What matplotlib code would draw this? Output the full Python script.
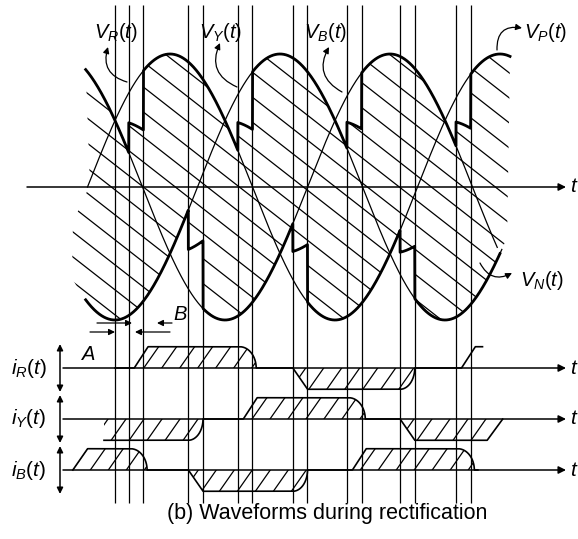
import numpy as np
import matplotlib
matplotlib.use('Agg')
import matplotlib.pyplot as plt
from matplotlib.patches import Polygon
from matplotlib.collections import LineCollection

plt.rcParams['font.family'] = ['Liberation Sans', 'DejaVu Sans']
plt.rcParams['mathtext.fontset'] = 'custom'
plt.rcParams['mathtext.rm'] = 'Liberation Sans'
plt.rcParams['mathtext.it'] = 'Liberation Sans:italic'

# phase voltages (p.u.), angles in electrical degrees
phase_shift = {'R': 0, 'Y': 120, 'B': 240}
thin_span = {'R': (0, 461), 'Y': (-2, 452), 'B': (-2, 447)}

# thyristor firing angles and commutation overlap
natural_point = [30]
top_firing = [45, 164, 283, 402]
top_phases = ['B', 'R', 'Y', 'B', 'R']
bottom_firing = [110, 224, 341]
bottom_phases = ['Y', 'B', 'R', 'Y']
overlap = 16
vp_span = (-2, 461)
vn_span = (-2, 450)

# line currents: (sign, firing where it starts, firing where it ends)
current_pulses = {
    'R': [(1, 45, 164), (-1, 224, 341), (1, 402, None)],
    'Y': [(-1, None, 110), (1, 164, 283), (-1, 341, None)],
    'B': [(1, None, 45), (-1, 110, 224), (1, 283, 402)],
}
current_span = {'R': (30, 431), 'Y': (18, 453), 'B': (-16, 426)}
current_cut = {'R': (0, 0), 'Y': (0, 17), 'B': (16, 0)}
hatch_stop = {'R': 400, 'Y': 453, 'B': 426}
current_labels = {'R': r'$\mathit{i_R(t)}$', 'Y': r'$\mathit{i_Y(t)}$', 'B': r'$\mathit{i_B(t)}$'}

# ---- page geometry (pixels of the 578x539 drawing) ----
K = 330 / 360.0      # px per degree
X0 = 87.5            # px of 0 deg
V = 133.0            # px per p.u.
Y0 = 187.0           # px of the voltage axis
base = {'R': (Y0 - 368) / V, 'Y': (Y0 - 419) / V, 'B': (Y0 - 470) / V}
H = 0.16


def tx(px):
    return (px - X0) / K


def ty(py):
    return (Y0 - py) / V


def phase(p, th):
    return np.sin(np.radians(th - phase_shift[p]))


def envelope(th, firing, order):
    out = phase(order[0], th)
    for k, f in enumerate(firing):
        a, b = order[k], order[k + 1]
        out = np.where(th >= f, (phase(a, th) + phase(b, th)) / 2, out)
        out = np.where(th >= f + overlap, phase(b, th), out)
    return out


def onset(th, f, sign):
    if sign > 0:
        return np.clip((th - f - 6) / 15.0, 0, 1)
    return np.clip((th - f) / 16.0, 0, 1)


def ending(th, f, sign):
    a, b = (f + 2, f + 20) if sign > 0 else (f, f + 16)
    s = np.clip((th - a) / (b - a), 0, 1)
    return np.sqrt(1 - s ** 2)


def current(p, th):
    i = np.zeros_like(th)
    for sign, on, off in current_pulses[p]:
        up = np.ones_like(th) if on is None else onset(th, on, sign)
        down = np.ones_like(th) if off is None else ending(th, off, sign)
        i += sign * np.minimum(up, down)
    left, right = current_cut[p]
    a, b = current_span[p]
    if left:
        i *= np.clip((th - a) / left, 0, 1)
    if right:
        i *= np.clip((b - th) / right, 0, 1)
    return i


def hatch(ax, xs, ys, angle, gap, lw=0.9):
    poly = Polygon(np.column_stack([xs, ys]), closed=True, fc='none', ec='none')
    ax.add_patch(poly)
    t = np.tan(np.radians(angle))
    segs = []
    for c in np.arange(-1200, 1600, gap):
        xp = np.array([0.0, 578.0])
        yp = c + t * xp
        segs.append(np.column_stack([tx(xp), ty(yp)]))
    lc = LineCollection(segs, colors='k', linewidths=lw)
    ax.add_collection(lc)
    lc.set_clip_path(poly)


fig = plt.figure(figsize=(5.78, 5.39), dpi=100)
ax = fig.add_axes([0, 0, 1, 1])
ax.set_xlim(tx(0), tx(578))
ax.set_ylim(ty(539), ty(0))
ax.axis('off')

arrow = dict(arrowstyle='-|>', color='k', lw=1.1, mutation_scale=11, shrinkA=0, shrinkB=0)

# vertical marker lines
marks = natural_point + sorted(top_firing + bottom_firing + [f + overlap for f in top_firing + bottom_firing])
ax.vlines(marks, ty(503), ty(5), color='k', lw=0.9)

# voltage axis
ax.annotate('', xy=(tx(566), 0), xytext=(tx(27), 0), arrowprops=arrow)
ax.text(tx(570), 0, r'$\mathit{t}$', fontsize=15, ha='left', va='center')

# thin phase voltages
for p, (a, b) in thin_span.items():
    th = np.linspace(a, b, 800)
    ax.plot(th, phase(p, th), color='k', lw=0.9)

# thick envelopes
th_p = np.arange(vp_span[0], vp_span[1], 0.05)
vp = envelope(th_p, top_firing, top_phases)
th_n = np.arange(vn_span[0], vn_span[1], 0.05)
vn = envelope(th_n, bottom_firing, bottom_phases)
ax.plot(th_p, vp, color='k', lw=2.0)
ax.plot(th_n, vn, color='k', lw=2.0)

# hatched output voltage area
th_l = np.arange(-17, 458, 0.25)
vn_l = envelope(th_l, bottom_firing, bottom_phases)
xs = np.concatenate([th_p, th_l[::-1], [tx(73), tx(90)]])
ys = np.concatenate([vp, vn_l[::-1], [ty(222), ty(185)]])
hatch(ax, xs, ys, 38, 25)

# voltage labels
lab = dict(fontsize=14.5, ha='center', va='center')
ax.text(tx(116), ty(33), r'$\mathit{V_R(t)}$', **lab)
ax.text(tx(221), ty(33), r'$\mathit{V_Y(t)}$', **lab)
ax.text(tx(326), ty(33), r'$\mathit{V_B(t)}$', **lab)
ax.text(tx(546), ty(33), r'$\mathit{V_P(t)}$', **lab)
ax.text(tx(542), ty(280), r'$\mathit{V_N(t)}$', **lab)
curved = dict(arrow, lw=0.9, mutation_scale=9)
ax.annotate('', xy=(tx(108), ty(47)), xytext=(tx(127), ty(82)),
            arrowprops=dict(curved, connectionstyle='arc3,rad=-0.5'))
ax.annotate('', xy=(tx(220), ty(43)), xytext=(tx(237), ty(87)),
            arrowprops=dict(curved, connectionstyle='arc3,rad=-0.5'))
ax.annotate('', xy=(tx(329), ty(47)), xytext=(tx(342), ty(92)),
            arrowprops=dict(curved, connectionstyle='arc3,rad=-0.5'))
ax.annotate('', xy=(tx(522), ty(28)), xytext=(tx(497), ty(50)),
            arrowprops=dict(curved, connectionstyle='arc3,rad=-0.6'))
ax.annotate('', xy=(tx(512), ty(273)), xytext=(tx(480), ty(263)),
            arrowprops=dict(curved, connectionstyle='arc3,rad=0.5'))

# delay (A) and overlap (B) markers
small = dict(arrow, lw=0.9, mutation_scale=9)
ax.annotate('', xy=(tx(132), ty(323)), xytext=(tx(97), ty(323)), arrowprops=small)
ax.annotate('', xy=(tx(157), ty(323)), xytext=(tx(172), ty(323)), arrowprops=small)
ax.annotate('', xy=(tx(115), ty(332)), xytext=(tx(90), ty(332)), arrowprops=small)
ax.annotate('', xy=(tx(135), ty(332)), xytext=(tx(170), ty(332)), arrowprops=small)
ax.text(tx(180), ty(314), r'$\mathit{B}$', **lab)
ax.text(tx(88), ty(355), r'$\mathit{A}$', **lab)

# line currents
for p in ['R', 'Y', 'B']:
    b0 = base[p]
    ax.annotate('', xy=(tx(566), b0), xytext=(tx(63), b0), arrowprops=arrow)
    ax.text(tx(570), b0, r'$\mathit{t}$', fontsize=15, ha='left', va='center')
    ax.annotate('', xy=(tx(60), b0 + 0.18), xytext=(tx(60), b0 - 0.18),
                arrowprops=dict(arrowstyle='<|-|>', color='k', lw=1.1, mutation_scale=9,
                                shrinkA=0, shrinkB=0))
    ax.text(tx(29), b0, current_labels[p], fontsize=15, ha='center', va='center')
    a, b = current_span[p]
    th = np.arange(a, b, 0.1)
    ic = b0 + H * current(p, th)
    ax.plot(th, ic, color='k', lw=1.2)
    m = th <= hatch_stop[p]
    hatch(ax, np.concatenate([th[m], th[m][::-1]]),
          np.concatenate([ic[m], np.full(m.sum(), b0)]), -55, 25.7)

ax.text(tx(327), ty(513), '(b) Waveforms during rectification', fontsize=15.5,
        ha='center', va='center')

fig.savefig('out.png', dpi=100)
